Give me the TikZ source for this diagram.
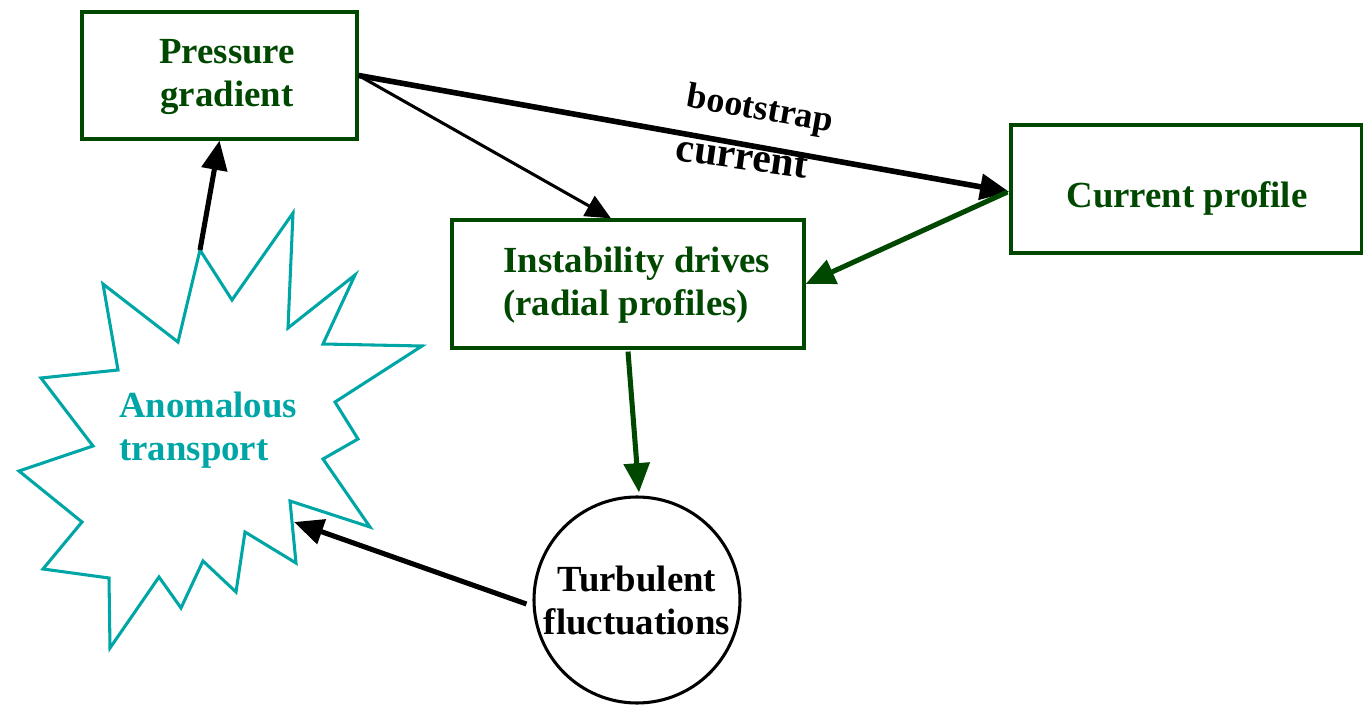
\documentclass[tikz,border=0pt]{standalone}
\usepackage{fontspec}
\setmainfont{Liberation Serif}
\usetikzlibrary{arrows.meta,calc}
\definecolor{dkgreen}{RGB}{0,72,0}
\definecolor{teal}{RGB}{0,166,166}
\begin{document}
\begin{tikzpicture}[x=0.75pt,y=-0.75pt,
  box/.style={draw=dkgreen,line width=2.4pt,rectangle,inner sep=0pt},
  lbl/.style={font=\bfseries\fontsize{27.6}{32.3}\selectfont,inner sep=0pt},
  arr/.style={line width=3.8pt,-{Triangle[length=22pt,width=19pt]}},
  thinarr/.style={line width=2.3pt,-{Triangle[length=19pt,width=17pt]}}]
\useasboundingbox (0,0) rectangle (1363,712);

% boxes
\node[box,minimum width=275*0.75pt,minimum height=127*0.75pt] (pg) at (219.5,75.5) {};
\node[lbl,text=dkgreen,align=center] (pgt) at (227,77) {Pressure\\gradient};

\node[box,minimum width=352*0.75pt,minimum height=128*0.75pt] (ib) at (628,284) {};
\node[lbl,text=dkgreen,align=left,anchor=west] (ibt) at (503,285) {Instability drives\\(radial profiles)};

\node[box,minimum width=351*0.75pt,minimum height=128*0.75pt] (cp) at (1186.5,189) {};
\node[lbl,text=dkgreen] (cpt) at (1187,198) {Current profile};

% turbulence circle
\node[circle,draw=black,line width=2.3pt,minimum size=206*0.75pt,inner sep=0pt] (tf) at (637,600) {};
\node[lbl,align=center] (tft) at (637,600) {Turbulent\\fluctuations};

% anomalous transport burst
\coordinate (st) at (200,250);
\coordinate (sa) at (294,522);
\draw[teal,line width=2.3pt,line join=miter]
  (st) -- (232,300) -- (293,213) -- (288,328) -- (355,275) -- (323,344)
  -- (422,346) -- (335,402) -- (358,439) -- (323,459) -- (370,527)
  -- (290,501) -- (296,563) -- (245,532) -- (236,592) -- (203,561)
  -- (181,608) -- (159,577) -- (110,648) -- (109,578) -- (43,569)
  -- (82,522) -- (19,471) -- (93,446) -- (41,378) -- (118,370)
  -- (103,284) -- (178,342) -- cycle;
\node[lbl,text=teal,align=left,anchor=west] (att) at (119,430) {Anomalous\\transport};

% connectors
\draw[arr] (st) -- (pg.south);
\draw[thinarr] (pg.east) -- ($(ib.north)+(-17,0)$);
\draw[arr,line width=4.2pt] (pg.east) -- ($(cp.west)+(0,3)$);
\node[font=\bfseries\fontsize{27}{30}\selectfont,inner sep=0pt,rotate=-10] (bs) at (760,111) {bootstrap};
\node[font=\bfseries\fontsize{31}{34}\selectfont,inner sep=0pt,rotate=-8] (cur) at (742,158) {current};
\draw[arr,dkgreen] ($(cp.west)+(-2,3)$) -- (ib.east);
\draw[arr,dkgreen] ($(ib.south)+(0,2)$) -- ($(tf.north)+(2,-3)$);
\draw[arr] ($(tf.west)+(-6,4)$) -- (sa);
\end{tikzpicture}
\end{document}
